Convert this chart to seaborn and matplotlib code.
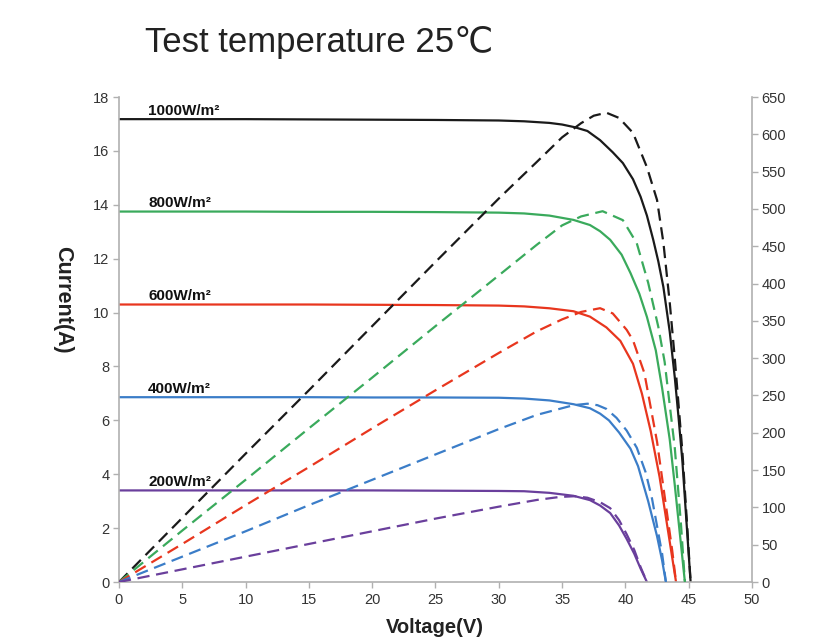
import numpy as np
import pandas as pd
import matplotlib
matplotlib.use("Agg")
import matplotlib.pyplot as plt
import seaborn as sns

# irradiance levels and colours
levels = ["1000W/m²", "800W/m²", "600W/m²", "400W/m²", "200W/m²"]
colors = ["#1a1a1a", "#3aaa5c", "#e8361e", "#3b7dc8", "#6a3f9c"]

# I-V curves (left axis, A)
v_iv_1000 = [0, 5, 10, 15, 20, 25, 30, 32, 34, 35, 36, 37, 38, 39, 39.8, 40.6, 41.2, 41.7, 42.2, 42.6, 43.0, 43.5, 43.9, 44.2, 44.5, 44.8, 45.15]
i_iv_1000 = [17.18, 17.18, 17.18, 17.17, 17.16, 17.15, 17.13, 17.1, 17.04, 16.98, 16.88, 16.74, 16.4, 15.95, 15.55, 14.95, 14.3, 13.6, 12.7, 11.9, 10.95, 9.3, 7.6, 6.1, 4.5, 2.4, 0]

v_iv_800 = [0, 5, 10, 15, 20, 25, 30, 32, 34, 35.9, 37.2, 38.0, 38.8, 39.7, 40.4, 41.1, 41.7, 42.4, 42.9, 43.5, 43.9, 44.3, 44.7]
i_iv_800 = [13.75, 13.75, 13.75, 13.74, 13.74, 13.73, 13.71, 13.68, 13.6, 13.44, 13.25, 13.02, 12.7, 12.15, 11.47, 10.7, 9.84, 8.6, 7.2, 5.3, 3.6, 1.8, 0]

v_iv_600 = [0, 5, 10, 15, 20, 25, 30, 32, 34, 35.9, 37.2, 38.5, 39.6, 40.6, 41.3, 42.0, 42.7, 43.3, 43.7, 44.0]
i_iv_600 = [10.3, 10.3, 10.3, 10.3, 10.29, 10.28, 10.26, 10.23, 10.16, 10.05, 9.85, 9.45, 8.95, 8.1, 7.0, 5.6, 3.9, 2.1, 0.9, 0]

v_iv_400 = [0, 5, 10, 15, 20, 25, 30, 32, 34, 35.9, 37.2, 38.0, 38.7, 39.5, 40.4, 41.0, 41.8, 42.5, 42.9, 43.2]
i_iv_400 = [6.86, 6.86, 6.86, 6.86, 6.85, 6.85, 6.84, 6.81, 6.74, 6.6, 6.45, 6.25, 6.0, 5.55, 4.95, 4.3, 3.0, 1.7, 0.8, 0]

v_iv_200 = [0, 5, 10, 15, 20, 25, 30, 32, 34, 35.9, 37.2, 38.0, 38.8, 39.5, 40.1, 40.7, 41.2, 41.7]
i_iv_200 = [3.4, 3.4, 3.4, 3.4, 3.4, 3.39, 3.38, 3.37, 3.31, 3.2, 3.04, 2.84, 2.56, 2.1, 1.6, 1.05, 0.5, 0]

# P-V curves (right axis, W)
v_p_1000 = [0, 5, 10, 15, 20, 25, 30, 33, 35, 36.5, 37.5, 38.5, 39.5, 40.6, 41.7, 42.5, 43.0, 43.5, 43.9, 44.5, 44.9, 45.15]
p_1000 = [0, 86, 172, 257, 343, 429, 514, 563, 596, 615, 625, 629, 622, 602, 556, 512, 455, 375, 300, 175, 70, 0]

v_p_800 = [0, 5, 10, 15, 20, 25, 30, 33, 35, 36.5, 38.2, 39.8, 40.9, 41.8, 42.6, 43.1, 43.9, 44.4, 44.7]
p_800 = [0, 69, 137, 206, 274, 343, 411, 452, 478, 490, 497, 485, 454, 401, 342, 295, 180, 75, 0]

v_p_600 = [0, 5, 10, 15, 20, 25, 30, 33, 35, 36.5, 38.0, 39.0, 40.1, 40.6, 41.5, 42.5, 43.1, 43.7, 44.0]
p_600 = [0, 51, 103, 154, 206, 257, 307, 336, 352, 362, 367, 360, 338, 324, 280, 188, 115, 42, 0]

v_p_400 = [0, 5, 10, 15, 20, 25, 30, 33, 35.9, 37.0, 37.8, 38.5, 39.3, 40.1, 40.9, 41.6, 42.1, 42.9, 43.2]
p_400 = [0, 34, 68, 103, 137, 171, 205, 224, 237, 239, 237, 232, 220, 203, 180, 147, 112, 38, 0]

v_p_200 = [0, 5, 10, 15, 20, 25, 30, 33, 34.8, 36.0, 37.0, 38.0, 38.8, 39.5, 40.1, 40.7, 41.2, 41.7]
p_200 = [0, 17, 34, 51, 68, 85, 101, 110, 114, 115, 113, 107, 99, 83, 64, 43, 20, 0]

iv_curves = [(v_iv_1000, i_iv_1000), (v_iv_800, i_iv_800), (v_iv_600, i_iv_600),
             (v_iv_400, i_iv_400), (v_iv_200, i_iv_200)]
pv_curves = [(v_p_1000, p_1000), (v_p_800, p_800), (v_p_600, p_600),
             (v_p_400, p_400), (v_p_200, p_200)]

sns.set_theme(style="white")
plt.rcParams['font.family'] = ['Liberation Sans', 'DejaVu Sans']

fig = plt.figure(figsize=(8.15, 6.41), dpi=100)
ax = fig.add_axes([0.146, 0.092, 0.7767, 0.7566])
ax2 = ax.twinx()

for (v, i), c in zip(iv_curves, colors):
    sns.lineplot(x=v, y=i, ax=ax, color=c, linewidth=1.6, sort=False, estimator=None)

for (v, p), c in zip(pv_curves, colors):
    sns.lineplot(x=v, y=p, ax=ax2, color=c, linewidth=1.6, sort=False, estimator=None)
    ax2.lines[-1].set_dashes([5.5, 3])

for (v, i), lab in zip(iv_curves, levels):
    ax.text(2.3, i[0] + 0.06, lab, fontsize=11, fontweight='bold', color='#111111',
            ha='left', va='bottom')

ax.set_xlim(0, 50)
ax.set_ylim(0, 18)
ax2.set_ylim(0, 650)
ax.set_xticks(np.arange(0, 51, 5))
ax.set_yticks(np.arange(0, 19, 2))
ax2.set_yticks(np.arange(0, 651, 50))
ax.set_xlabel("")
ax.set_ylabel("")

for a in (ax, ax2):
    for s in a.spines.values():
        s.set_color('#b0b0b0')
        s.set_linewidth(1.2)
    a.spines['top'].set_visible(False)
    a.tick_params(colors='#b0b0b0', labelcolor='#333333', labelsize=10.5, length=4, width=1)
ax.tick_params(axis='y', left=True, pad=3)
ax.tick_params(axis='x', bottom=True, pad=4)
ax2.tick_params(axis='y', right=True, pad=3)
ax.spines['right'].set_visible(False)
ax2.spines['left'].set_visible(False)
ax2.spines['bottom'].set_visible(False)

fig.text(0.178, 0.919, "Test temperature 25℃", fontsize=25, color='#222222',
         ha='left', va='baseline')
fig.text(0.077, 0.532, "Current(A)", fontsize=15.5, fontweight='bold', color='#222222',
         rotation=-90, ha='center', va='center')
fig.text(0.534, 0.006, "Voltage(V)", fontsize=14.5, fontweight='bold', color='#222222',
         ha='center', va='bottom')

fig.savefig("out.png", dpi=100)
